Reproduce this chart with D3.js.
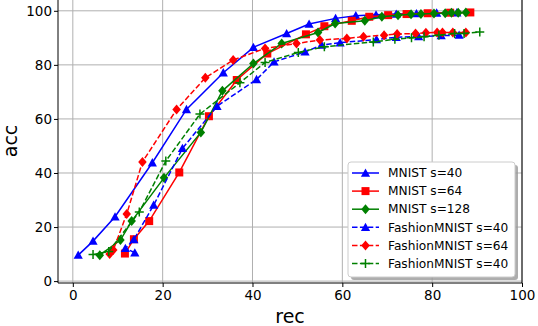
<!DOCTYPE html>
<html lang="en">
<head>
  <meta charset="UTF-8">
  <title>acc vs rec</title>
  <style>
    body { margin: 0; background: #fff; }
    svg { display: block; font-family: "DejaVu Sans", sans-serif; }
    .grid line { stroke: #b0b0b0; stroke-width: 1; }
  </style>
</head>
<body>
  <svg id="chart" width="538" height="326"></svg>
  <script src="https://d3js.org/d3.v7.min.js"></script>
  <script>
    // series values: [rec, acc]
    const mnist40 = [[1.2,9.6],[4.5,14.8],[9.4,23.8],[17.7,43.8],[25.3,63.5],[33.5,77.1],[40.2,86.5],[47.6,91.6],[52.6,95.1],[58.5,97.2],[63,98.2],[67.5,98.5],[72,98.8],[76.5,99],[81,99.2],[85.5,99.3]];
    const mnist64 = [[11.6,10.2],[13.6,15.5],[17.0,22.2],[23.7,40.2],[30.3,61],[36.5,74.4],[43.3,84.2],[51.9,91.3],[56,94.3],[62.1,96.3],[66,97.8],[70.2,98.4],[74.3,98.8],[79,99.1],[84,99.3],[88.5,99.4]];
    const mnist128 = [[6,9.6],[10.6,15.2],[13.1,22.2],[20.3,38.2],[28.5,55],[33.3,70.4],[40.2,80.5],[46.5,87.9],[54.6,92],[58.4,95.3],[65,96.3],[68.8,97.8],[72.4,98.4],[75.3,98.7],[77.5,98.8],[80.4,99],[82.9,99.1],[84.3,99.3],[85.8,99.3],[87.5,99.4]];
    const fashion40 = [[13.8,10.5],[11.7,12.1],[13.6,15.4],[18.0,28.1],[24.4,49.1],[32.1,64.7],[40.9,74.6],[44.8,81.1],[51.7,84.8],[55.4,87.3],[59.5,88.2],[67.6,89.4],[72,90.2],[77,90.5],[82,90.8],[86,91.0]];
    const fashion64 = [[8.2,10.0],[9.0,11.5],[12.0,24.8],[15.5,44.1],[23.1,63.5],[29.5,75.2],[35.7,81.8],[42.8,86.1],[49.8,87.9],[55,89.2],[61,89.8],[64.7,90.4],[69.3,91],[72.2,91.4],[76.3,91.6],[78.6,91.9],[81.1,92],[82.3,92],[84.6,92],[87.5,92]];
    const fashion40b = [[4.5,9.8],[8,11],[14.8,25.6],[20.7,44.4],[28.3,61.8],[37.2,73.4],[42.8,80.9],[50.2,84.6],[56,86.7],[66.9,88.5],[71.7,89.5],[75.4,90],[78.2,90.4],[81.5,91],[85,91.6],[87.1,91.6],[90.6,92.2]];

    const seriesNames = ["MNIST s=40", "MNIST s=64", "MNIST s=128", "FashionMNIST s=40", "FashionMNIST s=64", "FashionMNIST s=40"];
    const seriesData = [mnist40, mnist64, mnist128, fashion40, fashion64, fashion40b];
    const seriesColors = ["#0000ff", "#ff0000", "#008000", "#0000ff", "#ff0000", "#008000"];
    const seriesDashed = [false, false, false, true, true, true];
    const seriesMarkers = ["triangle", "square", "diamond", "triangle", "diamond", "plus"];
    const xTicks = [0, 20, 40, 60, 80, 100];
    const yTicks = [0, 20, 40, 60, 80, 100];

    const svg = d3.select("#chart");
    const plotLeft = 58, plotRight = 522, plotTop = 0, plotBottom = 283;

    const x = d3.scaleLinear().domain([-3.3, 100]).range([plotLeft, plotRight]);
    const y = d3.scaleLinear().domain([-0.7, 104]).range([plotBottom, plotTop]);

    // grid
    const grid = svg.append("g").attr("class", "grid");
    grid.selectAll(".gx").data(xTicks).join("line")
      .attr("x1", d => x(d)).attr("x2", d => x(d))
      .attr("y1", plotTop).attr("y2", plotBottom);
    grid.selectAll(".gy").data(yTicks).join("line")
      .attr("x1", plotLeft).attr("x2", plotRight)
      .attr("y1", d => y(d)).attr("y2", d => y(d));

    // axes
    const xAxis = svg.append("g")
      .attr("transform", `translate(0,${plotBottom})`)
      .call(d3.axisBottom(x).tickValues(xTicks).tickSize(4).tickPadding(3));
    const yAxis = svg.append("g")
      .attr("transform", `translate(${plotLeft},0)`)
      .call(d3.axisLeft(y).tickValues(yTicks).tickSize(4).tickPadding(2));
    [xAxis, yAxis].forEach(a => {
      a.select(".domain").remove();
      a.selectAll("text").attr("font-size", 13.5).attr("fill", "#000")
        .attr("font-family", "DejaVu Sans");
      a.selectAll("line").attr("stroke", "#000");
    });
    // spines
    svg.append("line").attr("x1", plotLeft).attr("x2", plotRight).attr("y1", plotBottom).attr("y2", plotBottom).attr("stroke", "#000");
    svg.append("line").attr("x1", plotLeft).attr("x2", plotLeft).attr("y1", plotTop).attr("y2", plotBottom).attr("stroke", "#000");
    svg.append("line").attr("x1", plotRight).attr("x2", plotRight).attr("y1", plotTop).attr("y2", plotBottom).attr("stroke", "#000");

    svg.append("text").attr("x", (plotLeft + plotRight) / 2).attr("y", 323)
      .attr("text-anchor", "middle").attr("font-size", 19).text("rec");
    svg.append("text").attr("transform", `translate(17,141) rotate(-90)`)
      .attr("text-anchor", "middle").attr("font-size", 19).text("acc");

    // markers
    function drawMarker(g, type, cx, cy, color) {
      if (type === "triangle") {
        const s = 4.6;
        g.append("path").attr("d", `M${cx},${cy - s}L${cx + s},${cy + s * 0.8}L${cx - s},${cy + s * 0.8}Z`).attr("fill", color);
      } else if (type === "square") {
        g.append("rect").attr("x", cx - 4).attr("y", cy - 4).attr("width", 8).attr("height", 8).attr("fill", color);
      } else if (type === "diamond") {
        const s = 5;
        g.append("path").attr("d", `M${cx},${cy - s}L${cx + s * 0.85},${cy}L${cx},${cy + s}L${cx - s * 0.85},${cy}Z`).attr("fill", color);
      } else if (type === "plus") {
        g.append("path").attr("d", `M${cx - 4.5},${cy}H${cx + 4.5}M${cx},${cy - 4.5}V${cy + 4.5}`)
          .attr("stroke", color).attr("stroke-width", 1.5).attr("fill", "none");
      }
    }

    const line = d3.line().x(d => x(d[0])).y(d => y(d[1]));
    const plot = svg.append("g");
    seriesData.forEach((data, i) => {
      const g = plot.append("g");
      g.append("path").datum(data).attr("d", line)
        .attr("fill", "none").attr("stroke", seriesColors[i]).attr("stroke-width", 1.5)
        .attr("stroke-dasharray", seriesDashed[i] ? "5.5,2.4" : null);
      data.forEach(d => drawMarker(g, seriesMarkers[i], x(d[0]), y(d[1]), seriesColors[i]));
    });

    // legend
    const lx = 348, ly = 162, lw = 167, lh = 115;
    svg.append("rect").attr("x", lx + 3).attr("y", ly + 3).attr("width", lw).attr("height", lh)
      .attr("rx", 3).attr("fill", "#999").attr("opacity", 0.8);
    svg.append("rect").attr("x", lx).attr("y", ly).attr("width", lw).attr("height", lh)
      .attr("rx", 3).attr("fill", "#fff").attr("stroke", "#cccccc");
    seriesNames.forEach((name, i) => {
      const ry = ly + 11 + i * 18.1;
      const g = svg.append("g");
      g.append("line").attr("x1", lx + 4).attr("x2", lx + 31).attr("y1", ry).attr("y2", ry)
        .attr("stroke", seriesColors[i]).attr("stroke-width", 1.5)
        .attr("stroke-dasharray", seriesDashed[i] ? "5.5,2.4" : null);
      drawMarker(g, seriesMarkers[i], lx + 17.5, ry, seriesColors[i]);
      g.append("text").attr("x", lx + 40).attr("y", ry + 4.2).attr("font-size", 12.2).text(name);
    });
  </script>
</body>
</html>
